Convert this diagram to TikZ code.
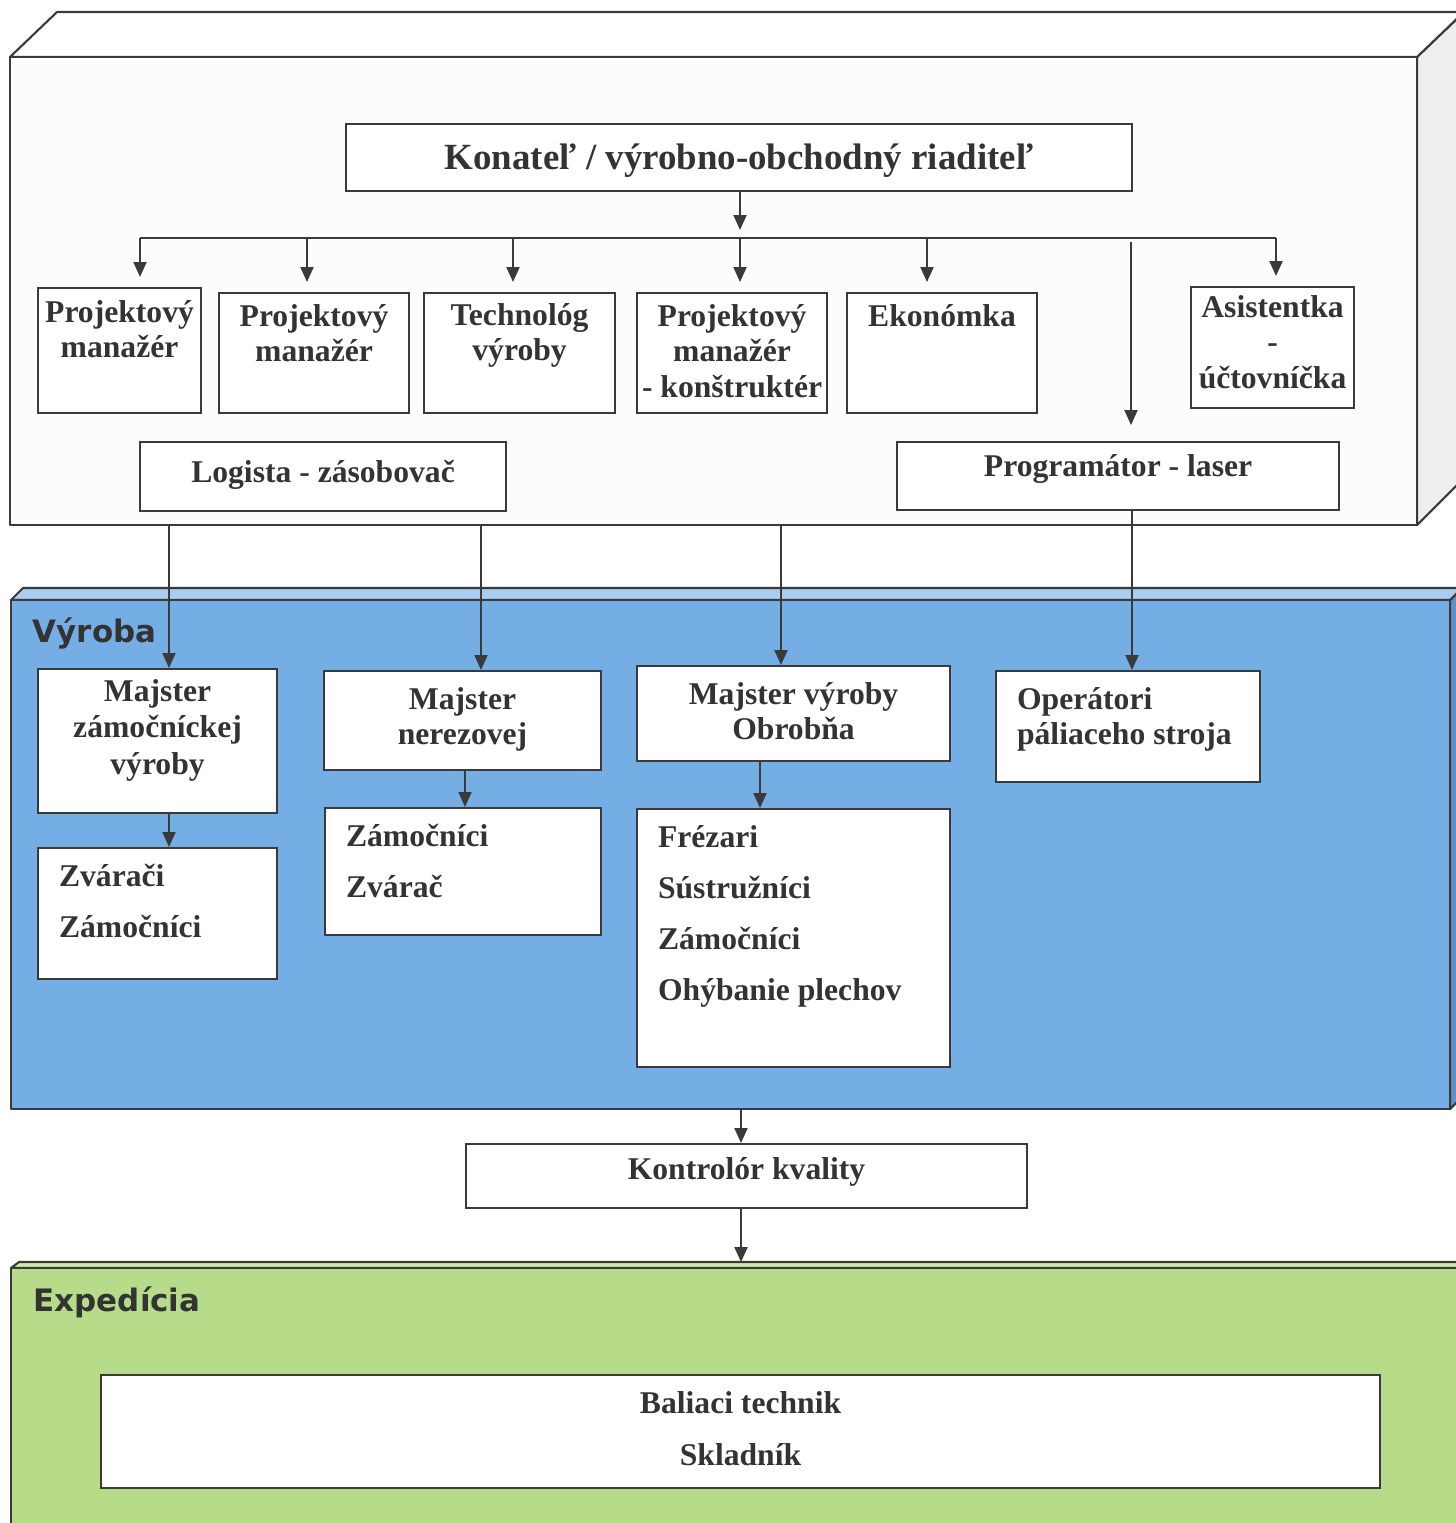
\documentclass[tikz,border=0pt]{standalone}
\usepackage{fontspec}
\setmainfont{Liberation Serif}
\newfontfamily\bandfont{DejaVu Sans}
\usetikzlibrary{arrows.meta, positioning, calc}
\definecolor{linegray}{HTML}{3A3A3A}
\definecolor{textdark}{HTML}{333333}
\definecolor{frontwhite}{HTML}{FCFCFC}
\definecolor{boxside}{HTML}{EEEEEE}
\definecolor{vyrobablue}{HTML}{74AEE4}
\definecolor{vyrobatop}{HTML}{A8CDEF}
\definecolor{vyrobaside}{HTML}{5E92C6}
\definecolor{expgreen}{HTML}{B6DC8A}
\definecolor{exptop}{HTML}{CFE8AE}

\begin{document}
\begin{tikzpicture}[
  x=0.1mm, y=-0.1mm,
  box/.style={draw=linegray, fill=white, line width=0.6pt, anchor=north west, inner xsep=0.2mm, inner ysep=0pt, align=flush center, text=textdark, font=\fontsize{9}{10.2}\selectfont\bfseries},
  listbox/.style={box, inner xsep=2.1mm, align=flush left, font=\fontsize{9}{14.6}\selectfont\bfseries},
  band/.style={anchor=base west, inner sep=0pt, text=textdark, font=\bandfont\bfseries\fontsize{8.8}{10}\selectfont},
  face/.style={draw=linegray, line width=0.6pt, line join=round},
  arrow/.style={-{Triangle[length=1.5mm, width=1.3mm]}, draw=linegray, line width=0.6pt}
]
  \useasboundingbox (0,0) rectangle (1455,1523);

  % Management block
  \filldraw[face, fill=boxside] (1417,57) -- (1464,12) -- (1464,478) -- (1417,525) -- cycle;
  \filldraw[face, fill=white] (10,57) -- (57,12) -- (1464,12) -- (1417,57) -- cycle;
  \filldraw[face, fill=frontwhite] (10,57) rectangle (1417,525);

  % Vyroba band
  \filldraw[face, fill=vyrobaside] (1450,600) -- (1462,588) -- (1462,1097) -- (1450,1109) -- cycle;
  \filldraw[face, fill=vyrobatop] (11,600) -- (23,588) -- (1462,588) -- (1450,600) -- cycle;
  \filldraw[face, fill=vyrobablue] (11,600) rectangle (1450,1109);
  \node[band] (vyroba) at (32,642) {Výroba};

  % Expedicia band
  \filldraw[face, fill=exptop] (11,1268) -- (19,1262) -- (1480,1262) -- (1470,1268) -- cycle;
  \filldraw[face, fill=expgreen] (11,1268) rectangle (1470,1540);
  \node[band] (expedicia) at (33,1311) {Expedícia};

  % Management
  \node[box, minimum width=78.6mm, text width=78.2mm, text height=4.5mm, text depth=2.2mm, font=\fontsize{10.5}{12}\selectfont\bfseries] (konatel) at (345,123) {Konateľ / výrobno-obchodný riaditeľ};
  \node[box, minimum width=16.3mm, text width=15.9mm, text height=3.4mm, text depth=9.1mm] (pm1) at (37,287) {Projektový\\manažér};
  \node[box, minimum width=19mm, text width=18.6mm, text height=3.3mm, text depth=8.7mm] (pm2) at (218,292) {Projektový\\manažér};
  \node[box, minimum width=19.1mm, text width=18.7mm, text height=3.2mm, text depth=8.8mm] (tech) at (423,292) {Technológ\\výroby};
  \node[box, minimum width=19mm, text width=18.6mm, text height=3.3mm, text depth=8.7mm] (pmk) at (636,292) {Projektový\\manažér\\- konštruktér};
  \node[box, minimum width=19mm, text width=18.6mm, text height=3.3mm, text depth=8.7mm] (ekon) at (846,292) {Ekonómka};
  \node[box, minimum width=16.3mm, text width=15.9mm, text height=3mm, text depth=9.1mm] (asist) at (1190,286) {Asistentka\\-\\účtovníčka};
  \node[box, minimum width=36.6mm, text width=36.2mm, text height=4mm, text depth=2.9mm] (logista) at (139,441) {Logista - zásobovač};
  \node[box, minimum width=44.2mm, text width=43.8mm, text height=3.4mm, text depth=3.4mm] (prog) at (896,441) {Programátor - laser};

  % Vyroba
  \node[box, minimum width=23.9mm, text width=23.5mm, text height=3.2mm, text depth=11.2mm, font=\fontsize{9}{10.5}\selectfont\bfseries] (mz) at (37,668) {Majster\\zámočníckej\\výroby};
  \node[listbox, minimum width=23.9mm, text width=19.7mm, text height=3.8mm, text depth=9.3mm] (zv) at (37,847) {Zvárači\\Zámočníci};
  \node[box, minimum width=27.7mm, text width=27.3mm, text height=3.8mm, text depth=6.1mm] (mn) at (323,670) {Majster\\nerezovej};
  \node[listbox, minimum width=27.6mm, text width=23.4mm, text height=3.8mm, text depth=8.9mm] (zam) at (324,807) {Zámočníci\\Zvárač};
  \node[box, minimum width=31.3mm, text width=30.9mm, text height=3.8mm, text depth=5.7mm] (mvo) at (636,665) {Majster výroby\\Obrobňa};
  \node[listbox, minimum width=31.3mm, text width=27.1mm, text height=3.8mm, text depth=22mm] (frez) at (636,808) {Frézari\\Sústružníci\\Zámočníci\\Ohýbanie plechov};
  \node[listbox, minimum width=26.4mm, text width=22.2mm, text height=3.8mm, text depth=7.3mm, font=\fontsize{9}{10.2}\selectfont\bfseries] (opr) at (995,670) {Operátori\\páliaceho stroja};

  % Kontrola a expedicia
  \node[box, minimum width=56.1mm, text width=55.7mm, text height=3.5mm, text depth=2.9mm] (kon) at (465,1143) {Kontrolór kvality};
  \node[box, minimum width=127.9mm, text width=127.5mm, text height=3.8mm, text depth=7.5mm, font=\fontsize{9}{14.8}\selectfont\bfseries] (bal) at (100,1374) {Baliaci technik\\Skladník};

  % Connectors
  \coordinate (busl) at (140,238);
  \coordinate (busr) at (1276,238);
  \coordinate (bus) at (740,238);
  \draw[arrow, shorten >=0.8mm] (konatel.south -| bus) -- (bus);
  \draw[arrow, -] (busl) -- (busr);
  \foreach \x/\n in {140/pm1, 307/pm2, 513/tech, 740/pmk, 927/ekon, 1276/asist}
    \draw[arrow, shorten >=1mm] (\x,238) -- (\x,238 |- \n.north);
  \draw[arrow, shorten >=1.6mm] (1131,242) -- (1131,242 |- prog.north);

  \draw[arrow] (169,525) -- (169,0 |- mz.north);
  \draw[arrow] (481,525) -- (481,0 |- mn.north);
  \draw[arrow] (781,525) -- (781,0 |- mvo.north);
  \draw[arrow] (1132,0 |- prog.south) -- (1132,0 |- opr.north);

  \draw[arrow] (169,0 |- mz.south) -- (169,0 |- zv.north);
  \draw[arrow] (465,0 |- mn.south) -- (465,0 |- zam.north);
  \draw[arrow] (760,0 |- mvo.south) -- (760,0 |- frez.north);

  \draw[arrow] (741,1109) -- (741,0 |- kon.north);
  \draw[arrow] (741,0 |- kon.south) -- (741,1262);
\end{tikzpicture}
\end{document}
